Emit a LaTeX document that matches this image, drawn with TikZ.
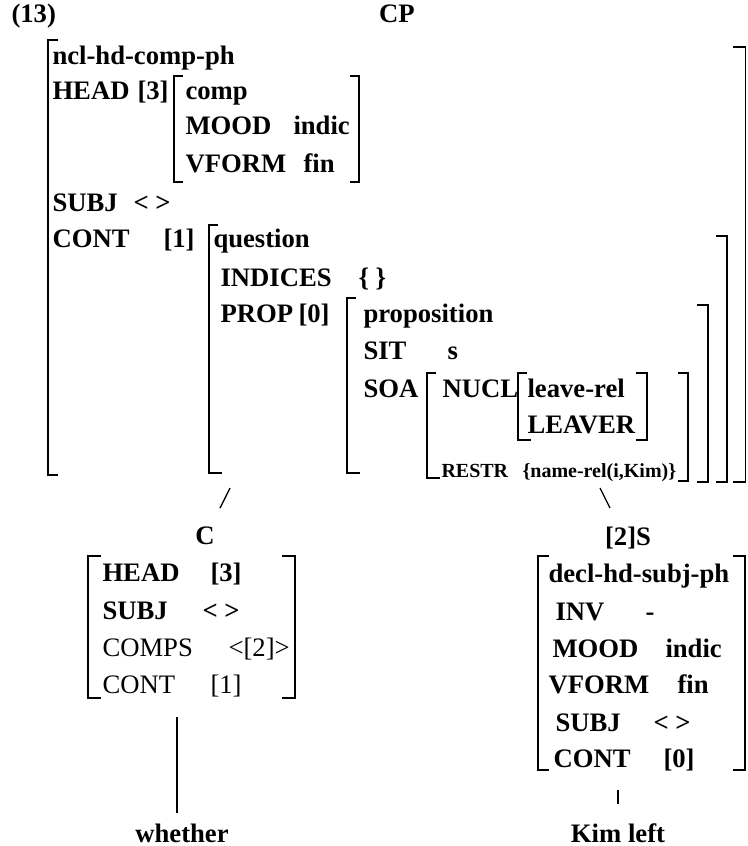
\documentclass[tikz,border=0pt]{standalone}
\usepackage{fontspec}
\setmainfont{Liberation Serif}

\tikzset{every picture/.style={line width=0.75pt}}
\tikzset{
  avm/.style={font=\fontsize{20}{24}\selectfont\bfseries, anchor=base west, inner sep=0.75pt},
  avmlight/.style={avm, font=\fontsize{20}{24}\selectfont\mdseries},
  avmsmall/.style={avm, font=\fontsize{15}{18}\selectfont\bfseries},
  cat/.style={avm, anchor=base},
  brk/.style={line width=1.5pt},
  branch/.style={line width=1pt},
}

\begin{document}
\begin{tikzpicture}[x=0.75pt,y=0.75pt,yscale=-1,xscale=1]
\useasboundingbox (0,0) rectangle (747,846);

%Shape: Bracket [outer CP]
\draw [brk] (58,40) -- (48,40) -- (48,475) -- (58,475) ;
\draw [line width=1pt] (733,47) -- (745.5,47) -- (745.5,482) -- (733,482) ;
%Shape: Bracket [HEAD]
\draw [brk] (183,76) -- (174,76) -- (174,182) -- (183,182) ;
\draw [brk] (350,76) -- (359,76) -- (359,182) -- (350,182) ;
%Shape: Bracket [question]
\draw [brk] (218,225) -- (209,225) -- (209,473) -- (222,473) ;
\draw [brk] (716,236) -- (727,236) -- (727,482) -- (716,482) ;
%Shape: Bracket [proposition]
\draw [brk] (356,298) -- (347,298) -- (347,473) -- (360,473) ;
\draw [brk] (697,305) -- (708,305) -- (708,482) -- (697,482) ;
%Shape: Bracket [SOA]
\draw [brk] (436,373) -- (427,373) -- (427,478) -- (440,478) ;
\draw [brk] (678,373) -- (688,373) -- (688,481) -- (678,481) ;
%Shape: Bracket [NUCL]
\draw [brk] (527,373) -- (518,373) -- (518,440) -- (531,440) ;
\draw [brk] (636,373) -- (647,373) -- (647,440) -- (636,440) ;
%Shape: Bracket [C]
\draw [brk] (101,556) -- (88,556) -- (88,698) -- (101,698) ;
\draw [brk] (282,556) -- (295,556) -- (295,698) -- (282,698) ;
%Shape: Bracket [S]
\draw [brk] (549,556) -- (538,556) -- (538,770) -- (549,770) ;
\draw [brk] (733,556) -- (745,556) -- (745,770) -- (733,770) ;

% Text Node
\draw (10,22) node [avm] (ex-num) {(13)};
% Text Node
\draw (397,22) node [cat] (cp) {CP};
% Text Node
\draw (51,64) node [avm] (cp-type) {ncl-hd-comp-ph};
% Text Node
\draw (51,99) node [avm] (cp-head) {HEAD};
% Text Node
\draw (136,99) node [avm] (cp-head-tag) {[3]};
% Text Node
\draw (184,99) node [avm] (hd-type) {comp};
% Text Node
\draw (184,134) node [avm] (hd-mood) {MOOD};
% Text Node
\draw (292,134) node [avm] (hd-mood-val) {indic};
% Text Node
\draw (184,172) node [avm] (hd-vform) {VFORM};
% Text Node
\draw (302,172) node [avm] (hd-vform-val) {fin};
% Text Node
\draw (51,211) node [avm] (cp-subj) {SUBJ};
% Text Node
\draw (132,211) node [avm] (cp-subj-val) {<\ >};
% Text Node
\draw (51,247) node [avm] (cp-cont) {CONT};
% Text Node
\draw (162,247) node [avm] (cp-cont-tag) {[1]};
% Text Node
\draw (212,247) node [avm] (q-type) {question};
% Text Node
\draw (219,286) node [avm] (q-ind) {INDICES};
% Text Node
\draw (357,286) node [avm] (q-ind-val) {\{\ \}};
% Text Node
\draw (219,322) node [avm] (q-prop) {PROP};
% Text Node
\draw (297,322) node [avm] (q-prop-tag) {[0]};
% Text Node
\draw (362,322) node [avm] (p-type) {proposition};
% Text Node
\draw (362,359) node [avm] (p-sit) {SIT};
% Text Node
\draw (446,359) node [avm] (p-sit-val) {s};
% Text Node
\draw (362,397) node [avm] (p-soa) {SOA};
% Text Node
\draw (441,397) node [avm] (s-nucl) {NUCL};
% Text Node
\draw (526,397) node [avm] (n-type) {leave-rel};
% Text Node
\draw (526,433) node [avm] (n-leaver) {LEAVER};
% Text Node
\draw (440,477) node [avmsmall] (s-restr) {RESTR};
% Text Node
\draw (521,477) node [avmsmall] (s-restr-val) {\{name-rel(i,Kim)\}};

% Text Node
\draw (205,544) node [cat] (c) {C};
% Text Node
\draw (101,581) node [avm] (c-head) {HEAD};
% Text Node
\draw (209,581) node [avm] (c-head-tag) {[3]};
% Text Node
\draw (101,619) node [avm] (c-subj) {SUBJ};
% Text Node
\draw (201,619) node [avm] (c-subj-val) {<\ >};
% Text Node
\draw (101,656) node [avmlight] (c-comps) {COMPS};
% Text Node
\draw (227,656) node [avmlight] (c-comps-val) {<[2]>};
% Text Node
\draw (101,693) node [avmlight] (c-cont) {CONT};
% Text Node
\draw (209,693) node [avmlight] (c-cont-tag) {[1]};
% Text Node
\draw (182,842) node [cat] (wh) {whether};

% Text Node
\draw (628,545) node [cat] (s) {[2]S};
% Text Node
\draw (547,582) node [avm] (s-type) {decl-hd-subj-ph};
% Text Node
\draw (554,620) node [avm] (s-inv) {INV};
% Text Node
\draw (644,620) node [avm] (s-inv-val) {-};
% Text Node
\draw (551,657) node [avm] (s-mood) {MOOD};
% Text Node
\draw (664,657) node [avm] (s-mood-val) {indic};
% Text Node
\draw (547,693) node [avm] (s-vform) {VFORM};
% Text Node
\draw (676,693) node [avm] (s-vform-val) {fin};
% Text Node
\draw (554,731) node [avm] (s-subj) {SUBJ};
% Text Node
\draw (652,731) node [avm] (s-subj-val) {<\ >};
% Text Node
\draw (552,767) node [avm] (s-cont) {CONT};
% Text Node
\draw (662,767) node [avm] (s-cont-tag) {[0]};
% Text Node
\draw (618,842) node [cat] (kim) {Kim left};

%Branch Lines
\coordinate (cp-left) at (230,488);
\coordinate (cp-right) at (600,488);
\coordinate (c-foot) at (177,717);
\coordinate (s-foot) at (618,790);
\draw [branch] (cp-left) -- ++(-10,20) ;
\draw [branch] (cp-right) -- ++(10,20) ;
\draw [branch, shorten >=7pt] (c-foot) -- (c-foot |- wh.north) ;
\draw [branch, shorten >=13pt] (s-foot) -- (s-foot |- kim.north) ;

\end{tikzpicture}
\end{document}
